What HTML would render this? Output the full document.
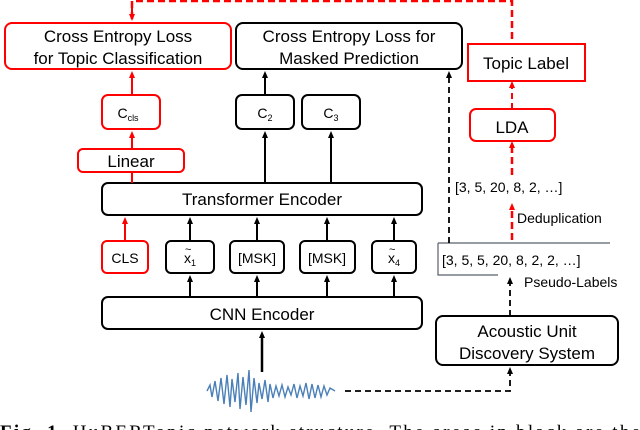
<!DOCTYPE html>
<html><head><style>
body{margin:0;background:#fff;}
svg{display:block;font-family:"Liberation Sans",sans-serif;}
</style></head><body>
<svg width="640" height="430" viewBox="0 0 640 430">
<defs>
<marker id="ab" markerWidth="8" markerHeight="8" refX="4" refY="4" orient="auto" markerUnits="userSpaceOnUse"><path d="M0,1 L7,4 L0,7z" fill="#000"/></marker>
<marker id="ar" markerWidth="8" markerHeight="8" refX="4" refY="4" orient="auto" markerUnits="userSpaceOnUse"><path d="M0,1 L7,4 L0,7z" fill="#f00"/></marker>
</defs>
<g fill="none" stroke-width="2">
<rect x="5" y="23" width="226" height="46" rx="7" stroke="#f00"/>
<rect x="236" y="23" width="226" height="46" rx="7" stroke="#000"/>
<rect x="468" y="44" width="117" height="37" stroke="#f00"/>
<rect x="470" y="109" width="85" height="32" rx="6" stroke="#f00"/>
<rect x="102" y="95" width="58" height="34" rx="6" stroke="#f00"/>
<rect x="78" y="149" width="106" height="23" rx="5" stroke="#f00"/>
<rect x="236" y="95" width="58" height="34" rx="6" stroke="#000"/>
<rect x="302" y="95" width="58" height="34" rx="6" stroke="#000"/>
<rect x="102" y="183" width="320" height="32" rx="6" stroke="#000"/>
<rect x="102" y="241" width="46" height="32" rx="5" stroke="#f00"/>
<rect x="166" y="241" width="48" height="32" rx="5" stroke="#000"/>
<rect x="230" y="241" width="54" height="32" rx="5" stroke="#000"/>
<rect x="300" y="241" width="55" height="32" rx="5" stroke="#000"/>
<rect x="372" y="241" width="44" height="32" rx="5" stroke="#000"/>
<rect x="102" y="297" width="320" height="32" rx="6" stroke="#000"/>
<rect x="436" y="316" width="182" height="49" rx="7" stroke="#000"/>
</g>
<path d="M438,243 H610 M438,243 V275 H498" fill="none" stroke="#57606a" stroke-width="1.2"/>
<path d="M132,19 V1 H512 V44" fill="none" stroke="#f00" stroke-width="2.5" stroke-dasharray="7,4"/>
<path d="M132,4 V18" stroke="#f00" stroke-width="2" marker-end="url(#ar)"/>
<path d="M512,109 V84" stroke="#f00" stroke-width="2" stroke-dasharray="6,4" marker-end="url(#ar)"/>
<path d="M512,175 V144" stroke="#f00" stroke-width="2.5" stroke-dasharray="7,4" marker-end="url(#ar)"/>
<path d="M512,240 V206" stroke="#f00" stroke-width="2.5" stroke-dasharray="7,4" marker-end="url(#ar)"/>
<g stroke="#f00" stroke-width="2">
<path d="M132,95 V74" marker-end="url(#ar)"/>
<path d="M132,149 V134" marker-end="url(#ar)"/>
<path d="M132,183 V172"/>
<path d="M125,241 V220" marker-end="url(#ar)"/>
</g>
<g stroke="#000" stroke-width="2">
<path d="M265,95 V74" marker-end="url(#ab)"/>
<path d="M265,183 V134" marker-end="url(#ab)"/>
<path d="M331,183 V134" marker-end="url(#ab)"/>
<path d="M190,241 V220" marker-end="url(#ab)"/>
<path d="M257,241 V220" marker-end="url(#ab)"/>
<path d="M327,241 V220" marker-end="url(#ab)"/>
<path d="M394,241 V220" marker-end="url(#ab)"/>
<path d="M190,297 V278" marker-end="url(#ab)"/>
<path d="M257,297 V278" marker-end="url(#ab)"/>
<path d="M327,297 V278" marker-end="url(#ab)"/>
<path d="M394,297 V278" marker-end="url(#ab)"/>
<path d="M262,372 V334" marker-end="url(#ab)" stroke-width="2.5"/>
</g>
<g stroke="#000" stroke-width="1.8" stroke-dasharray="6,4" fill="none">
<path d="M449,243 V74" marker-end="url(#ab)"/>
<path d="M345,391 H510 V370" marker-end="url(#ab)"/>
<path d="M510,316 V280" marker-end="url(#ab)"/>
</g>
<path fill="none" stroke="#4a7fb8" stroke-width="1.4" d="M207,391 L210,385 212,397 215,381 218,401 221,378 224,404 227,375 230,407 232,379 235,402 238,373 240,409 243,377 246,405 249,370 251,412 254,378 257,403 259,383 262,399 265,380 268,402 270,384 273,398 276,386 279,396 282,385 285,397 288,387 291,395 294,384 297,398 300,386 303,396 306,383 309,399 312,384 315,398 318,385 321,397 324,386 327,395 330,388 335,391"/>
<g font-size="17" text-anchor="middle" fill="#000">
<text x="118" y="42">Cross Entropy Loss</text>
<text x="118" y="64">for Topic Classification</text>
<text x="349" y="42">Cross Entropy Loss for</text>
<text x="349" y="64">Masked Prediction</text>
<text x="526" y="69">Topic Label</text>
<text x="512" y="133">LDA</text>
<text x="131" y="167">Linear</text>
<text x="262" y="205">Transformer Encoder</text>
<text x="262" y="320">CNN Encoder</text>
<text x="527" y="337">Acoustic Unit</text>
<text x="527" y="359">Discovery System</text>
</g>
<g font-size="14" fill="#000">
<text x="128" y="118" text-anchor="middle">C<tspan font-size="9" dy="3">cls</tspan></text>
<text x="265" y="118" text-anchor="middle">C<tspan font-size="9" dy="3">2</tspan></text>
<text x="331" y="118" text-anchor="middle">C<tspan font-size="9" dy="3">3</tspan></text>
<text x="125" y="263" text-anchor="middle">CLS</text>
<text x="184" y="263">x<tspan font-size="9" dy="3">1</tspan></text>
<text x="185" y="253" font-size="11">~</text>
<text x="257" y="263" text-anchor="middle">[MSK]</text>
<text x="327" y="263" text-anchor="middle">[MSK]</text>
<text x="388" y="263">x<tspan font-size="9" dy="3">4</tspan></text>
<text x="389" y="253" font-size="11">~</text>
<text x="455" y="192">[3, 5, 20, 8, 2, …]</text>
<text x="517" y="223">Deduplication</text>
<text x="442" y="265">[3, 5, 5, 20, 8, 2, 2, …]</text>
<text x="524" y="287">Pseudo-Labels</text>
</g>
<text x="0" y="438" font-family="Liberation Serif,serif" font-size="19" fill="#000" textLength="640"><tspan font-weight="bold">Fig. 1.</tspan>  HuBERTopic network structure.  The areas in black are the</text>
</svg>
</body></html>
